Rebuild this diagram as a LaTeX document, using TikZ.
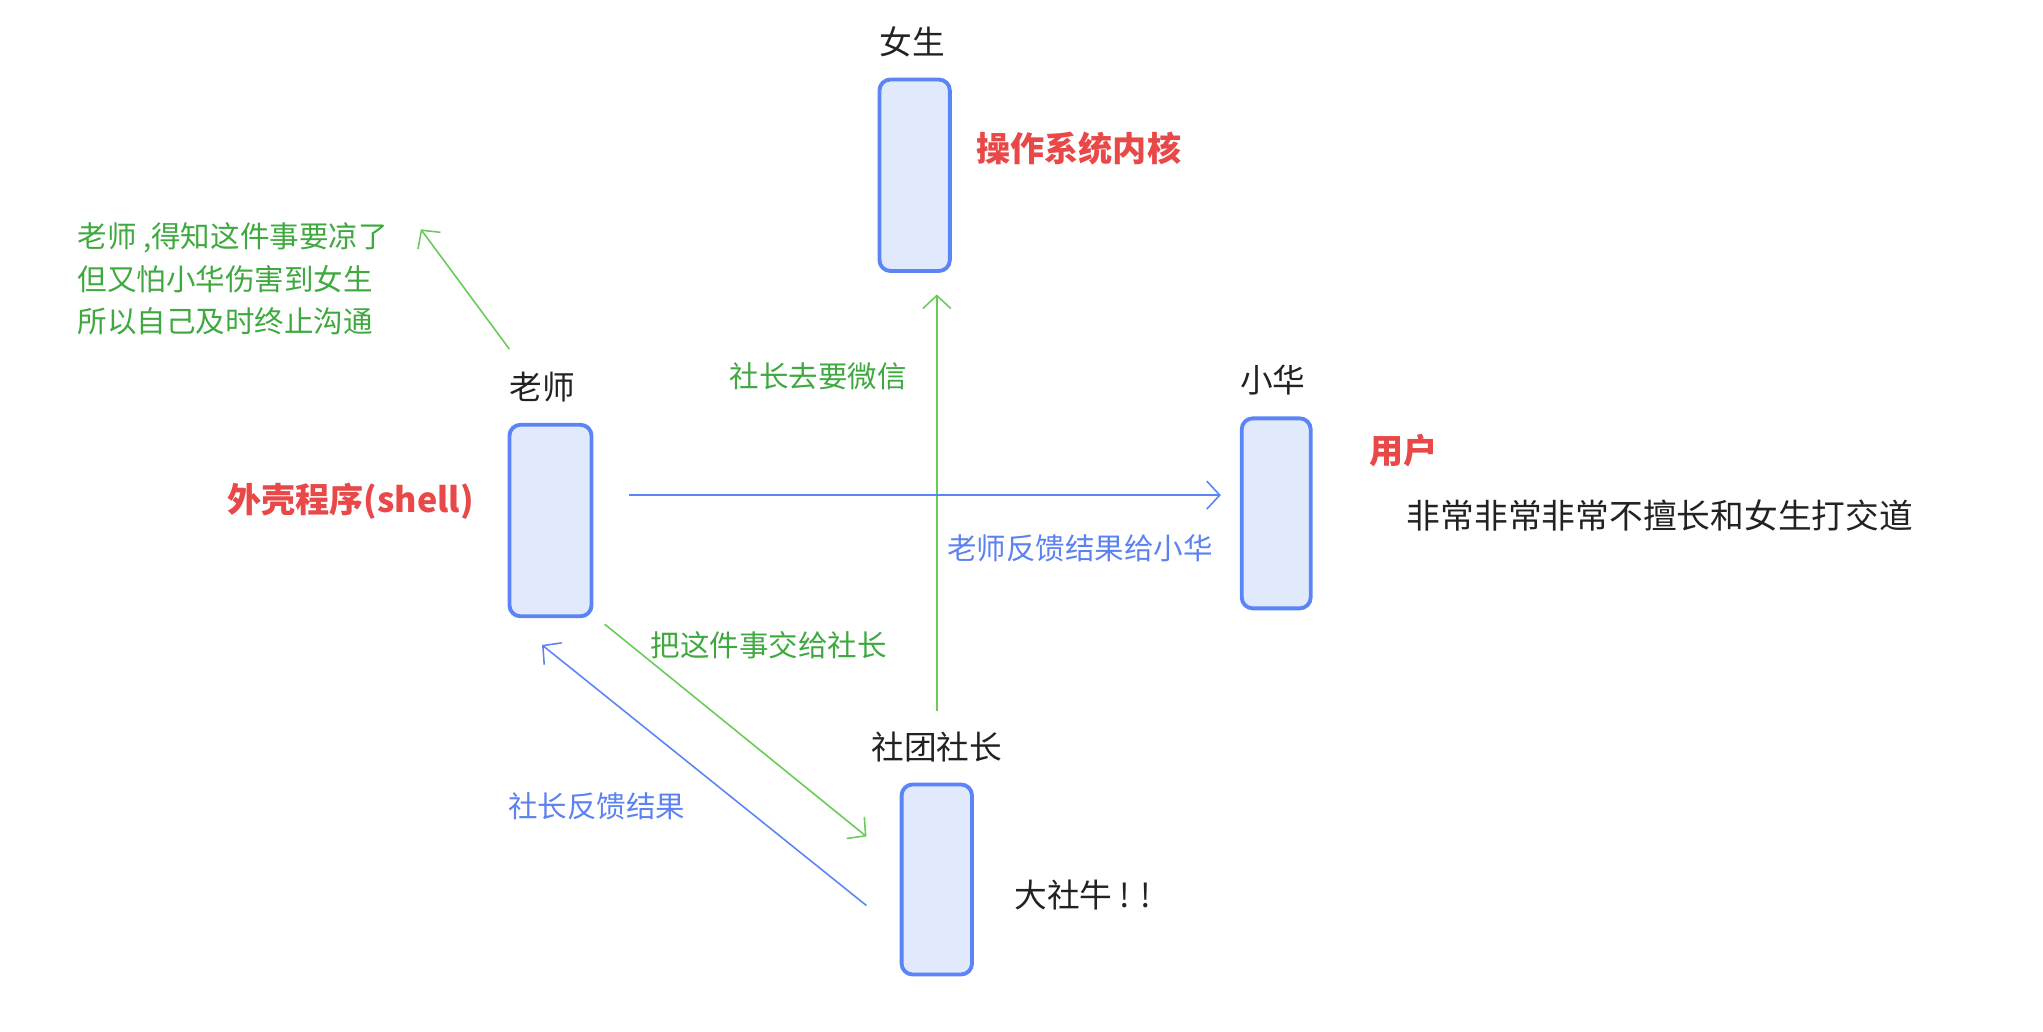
\documentclass[tikz,border=0pt]{standalone}
\usepackage{fontspec}
\setmainfont{Noto Sans CJK SC}
\usetikzlibrary{arrows.meta}

\definecolor{boxblue}{HTML}{5B85F7}
\definecolor{boxfill}{HTML}{E1E9FD}
\definecolor{linegreen}{HTML}{6ACB5A}
\definecolor{textgreen}{HTML}{3FA93F}
\definecolor{textblue}{HTML}{5C82F2}
\definecolor{hotred}{HTML}{E94848}
\definecolor{ink}{HTML}{222222}

\tikzset{
  box/.style={draw=boxblue, fill=boxfill, line width=1.1pt, rounded corners=1.1mm, inner sep=0pt},
  who/.style={text=ink, font=\fontsize{9.3}{11}\selectfont, inner sep=0pt},
  role/.style={text=hotred, font=\fontsize{9.7}{11}\selectfont\bfseries, inner sep=0pt},
  note/.style={font=\fontsize{8.4}{12.2}\selectfont, inner sep=0pt},
  arr/.style={line width=0.45pt, -{Straight Barb[length=1.3mm, width=2.8mm]}},
}

\begin{document}
\begin{tikzpicture}[x=0.1303mm, y=-0.1303mm]
  \useasboundingbox (0,0) rectangle (1568,792);

  % the four people
  \node[box, minimum width=7.04mm, minimum height=19.15mm] (girl)    at (702,134.5) {};
  \node[box, minimum width=8.21mm, minimum height=19.15mm] (teacher) at (422.5,399.5) {};
  \node[box, minimum width=6.9mm,  minimum height=19.0mm]  (hua)     at (979.5,394) {};
  \node[box, minimum width=7.04mm, minimum height=19.0mm]  (boss)    at (719,675) {};

  \node[who] (girlname)    at (700,32)  {女生};
  \node[who] (teachername) at (416,297) {老师};
  \node[who] (huaname)     at (977,292) {小华};
  \node[who] (bossname)    at (719,573) {社团社长};

  \node[role] (kernel) at (828,114)  {操作系统内核};
  \node[role] (shell)  at (269,385)  {外壳程序(shell)};
  \node[role] (user)   at (1077,346) {用户};

  \node[who, font=\fontsize{9.6}{11}\selectfont] (huanote) at (1274,396) {非常非常非常不擅长和女生打交道};
  \node[who, anchor=west] (bossnote) at (778,687) {大社牛 ! !};

  % arrow ends
  \coordinate (t1) at (391,268);
  \coordinate (t2) at (323,176);
  \coordinate (w1) at (719,546);
  \coordinate (w2) at (719,226);
  \coordinate (h1) at (483,380);
  \coordinate (h2) at (937,380);
  \coordinate (s1) at (464,479);
  \coordinate (s2) at (665,642);
  \coordinate (f1) at (665,695);
  \coordinate (f2) at (416,495);

  \draw[arr, linegreen] (t1) -- (t2);
  \draw[arr, linegreen] (w1) -- (w2);
  \draw[arr, boxblue]   (h1) -- (h2);
  \draw[arr, linegreen] (s1) -- (s2);
  \draw[arr, boxblue]   (f1) -- (f2);

  \node[note, text=textgreen, anchor=west, align=left] (giveup) at (59,214)
    {老师 ,得知这件事要凉了\\但又怕小华伤害到女生\\所以自己及时终止沟通};
  \node[note, text=textgreen] (wechat)  at (628,289) {社长去要微信};
  \node[note, text=textgreen] (handoff) at (590,495) {把这件事交给社长};
  \node[note, text=textblue]  (tohua)   at (829,421) {老师反馈结果给小华};
  \node[note, text=textblue]  (back)    at (458,619) {社长反馈结果};
\end{tikzpicture}
\end{document}
